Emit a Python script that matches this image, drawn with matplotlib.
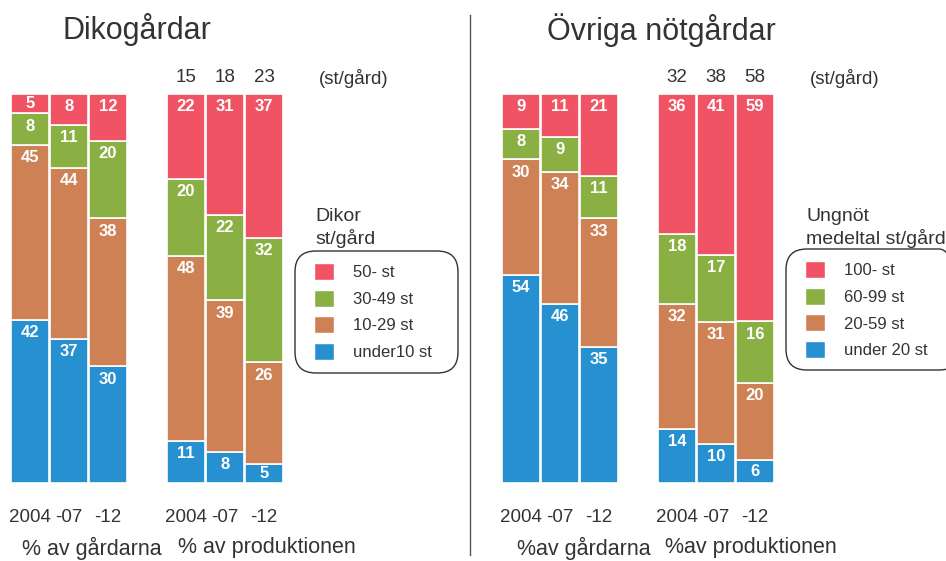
import matplotlib
matplotlib.use('Agg')
import matplotlib.pyplot as plt
from matplotlib.patches import Patch, FancyBboxPatch
from matplotlib.transforms import blended_transform_factory

plt.rcParams['font.family'] = ['Liberation Sans', 'DejaVu Sans']

# Data (percent shares, bottom to top: smallest size class first)
years = ['2004', '-07', '-12']

dik_farms_lo = [42, 37, 30]
dik_farms_m1 = [45, 44, 38]
dik_farms_m2 = [8, 11, 20]
dik_farms_hi = [5, 8, 12]

dik_prod_lo = [11, 8, 5]
dik_prod_m1 = [48, 39, 26]
dik_prod_m2 = [20, 22, 32]
dik_prod_hi = [22, 31, 37]
dik_avg = [15, 18, 23]

ovr_farms_lo = [54, 46, 35]
ovr_farms_m1 = [30, 34, 33]
ovr_farms_m2 = [8, 9, 11]
ovr_farms_hi = [9, 11, 21]

ovr_prod_lo = [14, 10, 6]
ovr_prod_m1 = [32, 31, 20]
ovr_prod_m2 = [18, 17, 16]
ovr_prod_hi = [36, 41, 59]
ovr_avg = [32, 38, 58]

dik_classes = ['50- st', '30-49 st', '10-29 st', 'under10 st']
ovr_classes = ['100- st', '60-99 st', '20-59 st', 'under 20 st']

colors = ['#2690D0', '#CE8155', '#8AB043', '#F05464']  # lo -> hi
txt = '#333333'

fig = plt.figure(figsize=(9.46, 5.61), dpi=100)
W, H = 946, 561


def panel(left_px, farms, prod, avg, title, title_x, classes, leg_title,
          leg_title_x, box, bottom_labels):
    ax = fig.add_axes([left_px / W, (H - 483) / H, 273 / W, 389 / H])
    ax.set_xlim(-0.5, 6.5)
    ax.set_ylim(0, 100)
    ax.axis('off')
    trans = blended_transform_factory(ax.transData, fig.transFigure)
    for xs, stacks in (([0, 1, 2], farms), ([4, 5, 6], prod)):
        totals = [sum(s[i] for s in stacks) for i in range(3)]
        bottom = [0, 0, 0]
        for ci, vals in enumerate(stacks):
            h = [v * 100 / t for v, t in zip(vals, totals)]
            ax.bar(xs, h, width=0.95, bottom=bottom, color=colors[ci],
                   edgecolor='white', linewidth=1.2, clip_on=False)
            for x, b, hh, v in zip(xs, bottom, h, vals):
                off = min(3.3, hh / 2)
                ax.text(x, b + hh - off, str(v), ha='center', va='center',
                        color='white', fontsize=12, fontweight='bold')
            bottom = [b + hh for b, hh in zip(bottom, h)]
        for x, y in zip(xs, years):
            ax.text(x, 1 - 518 / H, y, transform=trans, ha='center',
                    va='center', fontsize=13.5, color=txt)
    for x, a in zip([4, 5, 6], avg):
        ax.text(x, 1 - 78 / H, str(a), transform=trans, ha='center',
                va='center', fontsize=13.5, color=txt)
    ax.text(8.3, 1 - 78 / H, '(st/gård)', transform=trans, ha='center',
            va='center', fontsize=13.5, color=txt)

    fig.text(title_x / W, 1 - 30 / H, title, fontsize=22, color=txt,
             ha='left', va='center')
    fig.text(leg_title_x / W, 1 - 228 / H, leg_title, fontsize=14, color=txt,
             ha='left', va='center', linespacing=1.3)

    bx0, by0, bx1, by1 = box
    fig.add_artist(FancyBboxPatch((bx0 / W, 1 - by1 / H),
                                  (bx1 - bx0) / W, (by1 - by0) / H,
                                  boxstyle='round,pad=0,rounding_size=0.022',
                                  transform=fig.transFigure, facecolor='none',
                                  edgecolor='#333333', linewidth=1.0,
                                  mutation_aspect=W / H, clip_on=False))
    handles = [Patch(facecolor=colors[3 - i], edgecolor='white', label=c)
               for i, c in enumerate(classes)]
    leg = fig.legend(handles=handles, loc='upper left',
                     bbox_to_anchor=((bx0 + 19) / W, 1 - (by0 + 12) / H),
                     fontsize=12, frameon=False, handlelength=1.2,
                     handleheight=1.2, labelspacing=0.57, handletextpad=1.15,
                     borderpad=0, borderaxespad=0)
    for t in leg.get_texts():
        t.set_color(txt)
    for (xp, s) in bottom_labels:
        fig.text(xp / W, 1 - 548 / H, s, fontsize=15.5, color=txt,
                 ha='left', va='center')


panel(10.5, [dik_farms_lo, dik_farms_m1, dik_farms_m2, dik_farms_hi],
      [dik_prod_lo, dik_prod_m1, dik_prod_m2, dik_prod_hi], dik_avg,
      'Dikogårdar', 62, dik_classes, 'Dikor\nst/gård', 315,
      (295, 251, 458, 373),
      [(22, '% av gårdarna'), (178, '% av produktionen')])
panel(501.5, [ovr_farms_lo, ovr_farms_m1, ovr_farms_m2, ovr_farms_hi],
      [ovr_prod_lo, ovr_prod_m1, ovr_prod_m2, ovr_prod_hi], ovr_avg,
      'Övriga nötgårdar', 547, ovr_classes, 'Ungnöt\nmedeltal st/gård', 806,
      (786, 249, 960, 370),
      [(517, '%av gårdarna'), (665, '%av produktionen')])

fig.add_artist(plt.Line2D([470 / W, 470 / W], [1 - 555 / H, 1 - 15 / H],
                          color='#555555', linewidth=1))

fig.savefig('out.png', dpi=100)
